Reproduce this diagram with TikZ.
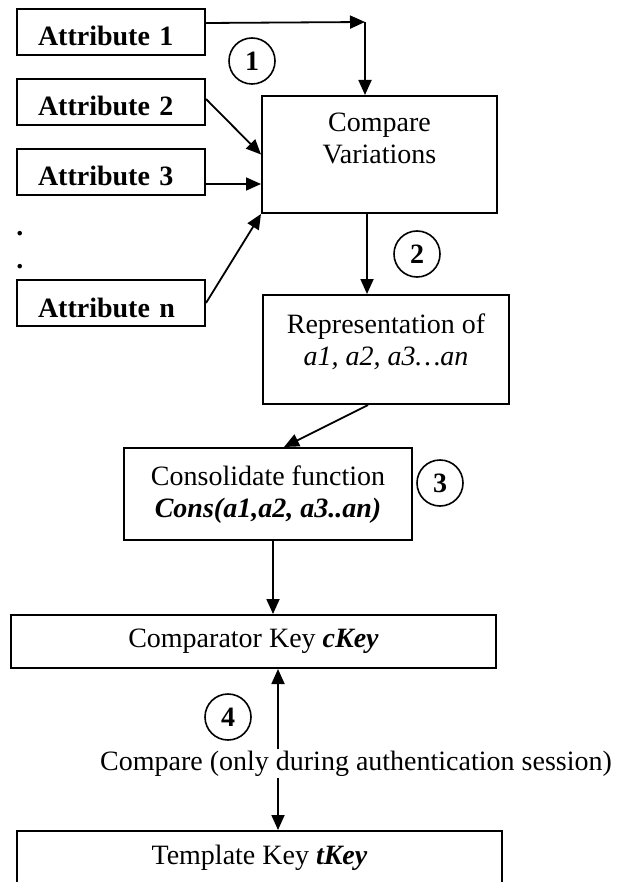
\documentclass[tikz,border=0pt]{standalone}
\usepackage{fontspec}
\setmainfont{Liberation Serif}
\usetikzlibrary{arrows.meta}
\begin{document}
\begin{tikzpicture}[x=0.5pt,y=-0.5pt,font=\fontsize{14pt}{16pt}\selectfont,
  attr/.style={draw,line width=1pt,font=\fontsize{14pt}{16pt}\selectfont\bfseries,anchor=north west,
    text width=73pt,align=left,inner xsep=10.5pt,inner ysep=0pt,text height=18.5pt,text depth=4.5pt},
  box/.style={draw,line width=1pt,anchor=north west,align=center,inner xsep=0pt,inner ysep=0pt},
  keybox/.style={draw,line width=1pt,minimum width=242.5pt,minimum height=26.5pt,inner sep=0pt},
  num/.style={draw,circle,line width=0.8pt,minimum size=23pt,inner sep=0pt,font=\fontsize{14pt}{16pt}\selectfont\bfseries},
  arr/.style={line width=0.9pt,-{Triangle[length=7.5pt,width=6.5pt]}},
  darr/.style={line width=0.9pt,{Triangle[length=7.5pt,width=6.5pt]}-{Triangle[length=7.5pt,width=6.5pt]}}]
\useasboundingbox (0,0) rectangle (627,882);
\node[attr] (attr_1) at (16,8) {Attribute 1};
\node[attr] (attr_2) at (16,78) {Attribute 2};
\node[attr] (attr_3) at (16,148) {Attribute 3};
\node[attr] (attr_n) at (16,279) {Attribute n};
\node[inner sep=0pt,font=\fontsize{14pt}{16pt}\selectfont\bfseries] (dot_1) at (20,234) {.};
\node[inner sep=0pt,font=\fontsize{14pt}{16pt}\selectfont\bfseries] (dot_2) at (20,267) {.};
\node[box,minimum width=117.5pt,text height=34pt,text depth=24.5pt] (cmp) at (261,95) {Compare\\Variations};
\node[box,minimum width=123pt,text height=35pt,text depth=19.5pt] (rep) at (262,294) {Representation of\\\textit{a1, a2, a3…an}};
\node[box,minimum width=144pt,text height=34.5pt,text depth=11.5pt] (cons) at (123,447) {Consolidate function\\\textbf{\textit{Cons(a1,a2, a3..an)}}};
\node[keybox] (ckey) at (253.5,641.5) {Comparator Key \textbf{\textit{cKey}}};
\node[keybox] (tkey) at (259.5,857.5) {Template Key \textbf{\textit{tKey}}};
\node[num] (n_1) at (252,61) {1};
\node[num] (n_2) at (417,254) {2};
\node[num] (n_3) at (440,483) {3};
\node[num] (n_4) at (228,717) {4};
\coordinate (bend_1) at (365,22);
\draw[arr] ([yshift=4.5pt]attr_1.east) -- (bend_1);
\draw[arr] (bend_1) -- (bend_1 |- cmp.north);
\draw[arr] ([yshift=1.5pt]attr_2.east) -- (cmp.west);
\draw[arr] ([yshift=-6pt]attr_3.east) -- ([yshift=-6pt]attr_3.east -| cmp.west);
\draw[arr] (attr_n.east) -- (cmp.south west);
\draw[arr] ([xshift=-6.25pt]cmp.south) -- ([xshift=-6.25pt]cmp.south |- rep.north);
\draw[arr] ([xshift=-9pt]rep.south) -- ([xshift=8pt]cons.north);
\draw[arr] ([xshift=2.5pt]cons.south) -- ([xshift=2.5pt]cons.south |- ckey.north);
\draw[darr] ([xshift=12.25pt]ckey.south) -- ([xshift=12.25pt]ckey.south |- tkey.north);
\node[fill=white,inner sep=1pt,anchor=base] (cmp_lbl) at (356,770) {Compare (only during authentication session)};
\end{tikzpicture}
\end{document}
